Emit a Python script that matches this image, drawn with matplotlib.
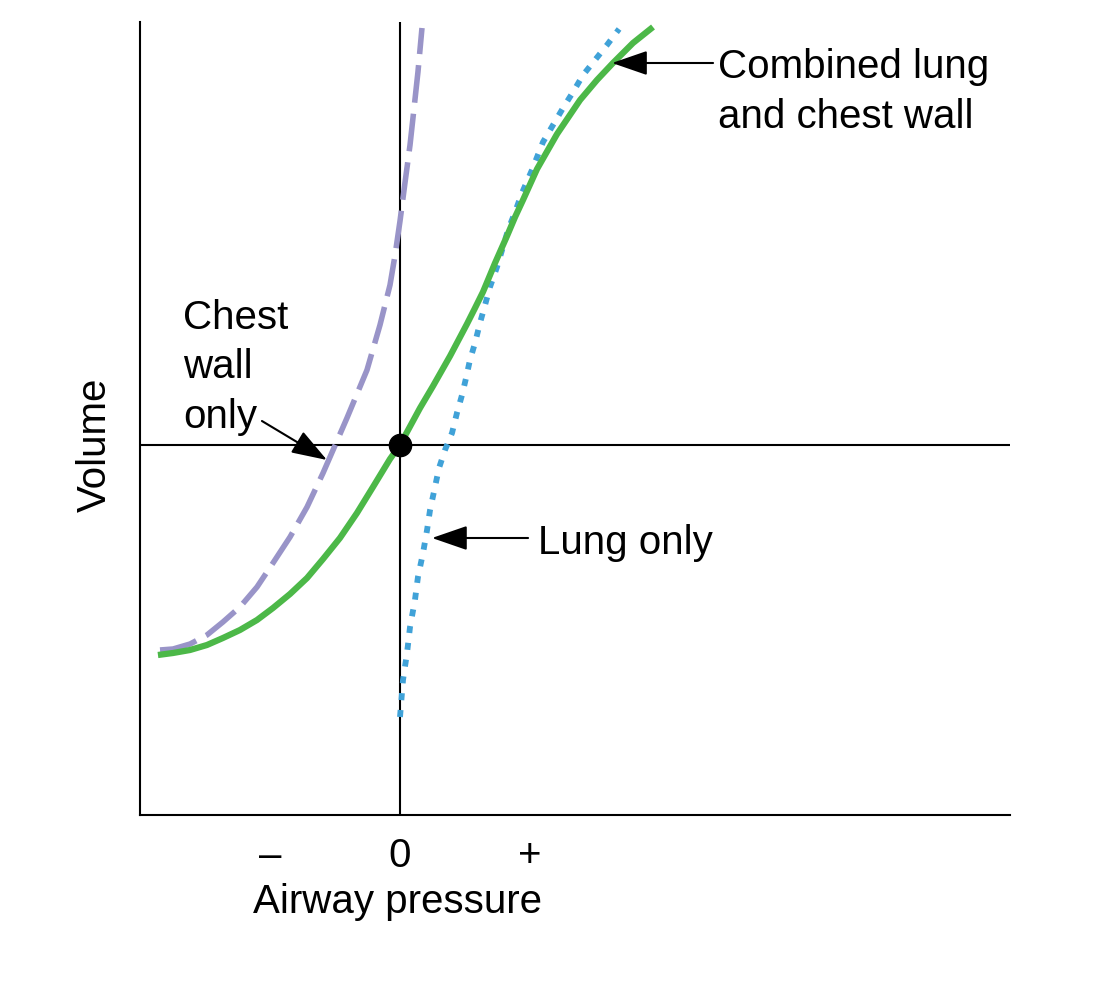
import matplotlib
matplotlib.use("Agg")
import matplotlib.pyplot as plt

plt.rcParams['font.family'] = ['Liberation Sans', 'DejaVu Sans']

# Curves (pressure in tick units, volume in arbitrary units; 0,0 = resting point)
combined_x = [-1.862, -1.746, -1.615, -1.485, -1.362, -1.231, -1.100, -0.977, -0.846, -0.715,
              -0.592, -0.462, -0.331, -0.208, -0.077, 0.000, 0.054, 0.154, 0.254, 0.385,
              0.515, 0.577, 0.638, 0.731, 0.823, 0.885, 0.946, 1.054, 1.208, 1.385,
              1.515, 1.638, 1.792, 1.946]
combined_y = [-2.10, -2.08, -2.05, -2.00, -1.93, -1.85, -1.75, -1.63, -1.49, -1.33,
              -1.14, -0.93, -0.68, -0.42, -0.14, 0.00, 0.13, 0.37, 0.59, 0.89,
              1.21, 1.37, 1.53, 1.82, 2.09, 2.28, 2.45, 2.76, 3.11, 3.45,
              3.65, 3.82, 4.02, 4.18]

chest_x = [-1.846, -1.746, -1.615, -1.485, -1.362, -1.231, -1.100, -0.977, -0.846, -0.715,
           -0.592, -0.515, -0.408, -0.254, -0.154, -0.077, -0.038, 0.000, 0.038, 0.077,
           0.108, 0.138, 0.169]
chest_y = [-2.05, -2.04, -1.99, -1.90, -1.77, -1.62, -1.42, -1.18, -0.92, -0.62,
           -0.28, -0.05, 0.27, 0.75, 1.20, 1.60, 1.90, 2.24, 2.62, 3.00,
           3.37, 3.73, 4.17]

lung_x = [0.000, 0.023, 0.054, 0.077, 0.115, 0.138, 0.177, 0.208, 0.231, 0.269,
          0.300, 0.346, 0.400, 0.438, 0.477, 0.508, 0.538, 0.577, 0.615, 0.654,
          0.692, 0.746, 0.785, 0.831, 0.885, 0.938, 1.015, 1.100, 1.177, 1.254,
          1.331, 1.408, 1.500, 1.592, 1.685]
lung_y = [-2.72, -2.35, -2.08, -1.82, -1.55, -1.32, -1.08, -0.85, -0.65, -0.42,
          -0.23, -0.05, 0.12, 0.32, 0.50, 0.67, 0.85, 1.02, 1.22, 1.40,
          1.58, 1.78, 1.95, 2.15, 2.33, 2.52, 2.75, 3.03, 3.20, 3.37,
          3.53, 3.70, 3.85, 4.00, 4.16]

tick_pos = [-1, 0, 1]
tick_labels = ['\u2013', '0', '+']

GREEN = '#4cb848'
PURPLE = '#9994c8'
BLUE = '#40a2d8'
FS = 29

fig = plt.figure(figsize=(10.93, 10.0), dpi=100)
ax = fig.add_axes([140/1093, 0.185, 870/1093, 0.793])
ax.set_xlim(-2.0, 4.692)
ax.set_ylim(-3.70, 4.23)

for s in ['top', 'right']:
    ax.spines[s].set_visible(False)
for s in ['left', 'bottom']:
    ax.spines[s].set_linewidth(1.5)
ax.set_xticks([])
ax.set_yticks([])

ax.axhline(0, color='black', lw=1.5, zorder=1)
ax.axvline(0, color='black', lw=1.5, zorder=1)

ax.plot(chest_x, chest_y, color=PURPLE, lw=4.0, dashes=(6.8, 2.0), dash_capstyle='butt',
        dash_joinstyle='round', zorder=2)
ax.plot(lung_x, lung_y, color=BLUE, lw=4.2, dashes=(1.2, 1.7), dash_capstyle='butt', zorder=3)
ax.plot(combined_x, combined_y, color=GREEN, lw=4.5, solid_capstyle='butt',
        solid_joinstyle='round', zorder=4)
ax.plot([0], [0], 'o', color='black', ms=16, zorder=5)

arrow = dict(arrowstyle='-|>,head_length=1.1,head_width=0.38', color='black', lw=1.5,
             mutation_scale=20, shrinkA=0, shrinkB=0)
ax.annotate('', xy=(1.631, 3.82), xytext=(2.408, 3.82), arrowprops=arrow, zorder=6)
ax.annotate('', xy=(0.246, -0.93), xytext=(0.985, -0.93), arrowprops=arrow, zorder=6)
ax.annotate('', xy=(-0.562, -0.15), xytext=(-1.062, 0.24), arrowprops=arrow, zorder=6)

ax.text(2.446, 3.67, 'Combined lung', fontsize=FS, va='baseline', ha='left')
ax.text(2.446, 3.17, 'and chest wall', fontsize=FS, va='baseline', ha='left')
ax.text(1.062, -1.09, 'Lung only', fontsize=FS, va='baseline', ha='left')
ax.text(-1.669, 1.16, 'Chest', fontsize=FS, va='baseline', ha='left')
ax.text(-1.669, 0.67, 'wall', fontsize=FS, va='baseline', ha='left')
ax.text(-1.669, 0.17, 'only', fontsize=FS, va='baseline', ha='left')

for p, lab in zip(tick_pos, tick_labels):
    ax.text(p, -4.22, lab, fontsize=FS, va='baseline', ha='center', clip_on=False)
ax.text(-0.023, -4.68, 'Airway pressure', fontsize=FS, va='baseline', ha='center', clip_on=False)
fig.text(95/1093, 0.555, 'Volume', fontsize=FS, rotation=90, va='center', ha='center')

fig.savefig('out.png', dpi=100, facecolor='white')
